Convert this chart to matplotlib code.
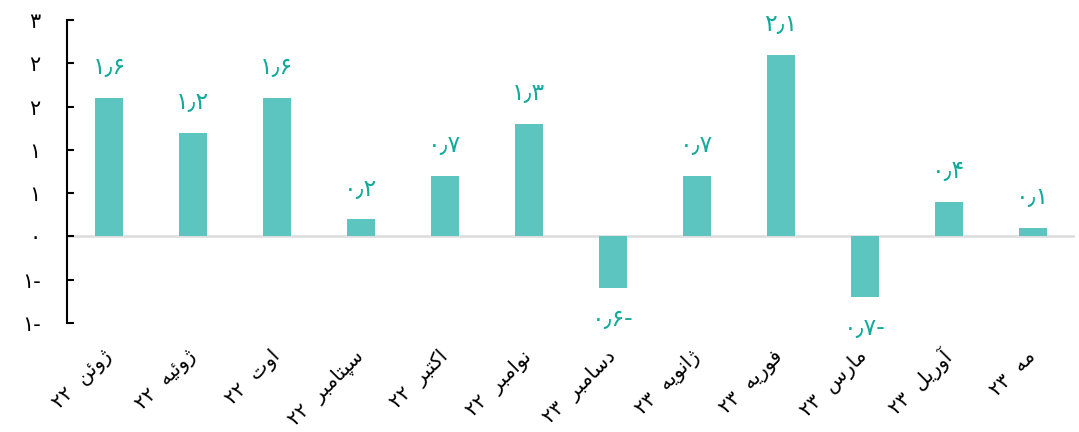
import numpy as np
import matplotlib
matplotlib.use("Agg")
import matplotlib.pyplot as plt

# chart data
months = ['ژوئن', 'ژوئیه', 'اوت', 'سپتامبر', 'اکتبر', 'نوامبر',
          'دسامبر', 'ژانویه', 'فوریه', 'مارس', 'آوریل', 'مه']
years = ['۲۲', '۲۲', '۲۲', '۲۲', '۲۲', '۲۲',
         '۲۳', '۲۳', '۲۳', '۲۳', '۲۳', '۲۳']
values = [1.6, 1.2, 1.6, 0.2, 0.7, 1.3, -0.6, 0.7, 2.1, -0.7, 0.4, 0.1]
y_ticks = [-1.0, -0.5, 0.0, 0.5, 1.0, 1.5, 2.0, 2.5]
y_tick_labels = ['۱-', '۱-', '۰', '۱', '۱', '۲', '۲', '۳']

bar_color = '#5cc5bf'
label_color = '#13a99b'

# matplotlib has no arabic shaping, so use presentation forms by hand
# (iso, fin) for right-joining letters, (iso, fin, ini, med) for dual-joining
FORMS = {
	'ا': ('\uFE8D', '\uFE8E'),
	'آ': ('\uFE81', '\uFE82'),
	'ب': ('\uFE8F', '\uFE90', '\uFE91', '\uFE92'),
	'پ': ('\uFB56', '\uFB57', '\uFB58', '\uFB59'),
	'ت': ('\uFE95', '\uFE96', '\uFE97', '\uFE98'),
	'د': ('\uFEA9', '\uFEAA'),
	'ر': ('\uFEAD', '\uFEAE'),
	'ز': ('\uFEAF', '\uFEB0'),
	'ژ': ('\uFB8A', '\uFB8B'),
	'س': ('\uFEB1', '\uFEB2', '\uFEB3', '\uFEB4'),
	'ف': ('\uFED1', '\uFED2', '\uFED3', '\uFED4'),
	'ک': ('\uFB8E', '\uFB8F', '\uFB90', '\uFB91'),
	'ل': ('\uFEDD', '\uFEDE', '\uFEDF', '\uFEE0'),
	'م': ('\uFEE1', '\uFEE2', '\uFEE3', '\uFEE4'),
	'ن': ('\uFEE5', '\uFEE6', '\uFEE7', '\uFEE8'),
	'ه': ('\uFEE9', '\uFEEA', '\uFEEB', '\uFEEC'),
	'و': ('\uFEED', '\uFEEE'),
	'ی': ('\uFBFC', '\uFBFD', '\uFBFE', '\uFBFF'),
	'ئ': ('\uFE89', '\uFE8A', '\uFE8B', '\uFE8C'),
}


def shape(word):
	out = []
	for i, ch in enumerate(word):
		f = FORMS.get(ch)
		if f is None:
			out.append(ch)
			continue
		prev = word[i - 1] if i > 0 else ''
		nxt = word[i + 1] if i + 1 < len(word) else ''
		join_prev = prev in FORMS and len(FORMS[prev]) == 4
		join_next = len(f) == 4 and nxt in FORMS
		if join_prev and join_next:
			out.append(f[3])
		elif join_prev:
			out.append(f[1])
		elif join_next:
			out.append(f[2])
		else:
			out.append(f[0])
	# visual order, left to right
	return ''.join(reversed(out))


def to_fa(v):
	digits = str.maketrans('0123456789', '۰۱۲۳۴۵۶۷۸۹')
	s = '{:.1f}'.format(abs(v)).translate(digits).replace('.', '٫')
	if v < 0:
		s += '-'
	return s


x_labels = [y + '  ' + shape(m) for m, y in zip(months, years)]

fig = plt.figure(figsize=(10.79, 4.32), dpi=100)
ax = fig.add_axes([0.062, 0.252, 0.934, 0.702])

x = np.arange(len(values))
ax.axhline(0, color='#dcdcdc', lw=1.8, zorder=1)
ax.bar(x, values, width=0.33, color=bar_color, zorder=2)

for xi, v in zip(x, values):
	off = 22 if v >= 0 else -22
	ax.annotate(to_fa(v), (xi, v), xytext=(0, off), textcoords='offset points',
				ha='center', va='center', fontsize=17, color=label_color,
				annotation_clip=False)

ax.set_xlim(-0.5, len(values) - 0.5)
ax.set_ylim(-1.0, 2.5)
ax.set_yticks(y_ticks)
ax.set_yticklabels(y_tick_labels, fontsize=15)
ax.tick_params(axis='y', direction='in', length=5, width=1.5, pad=19)

ax.set_xticks(x)
ax.set_xticklabels(x_labels, fontsize=14.5, rotation=45, ha='right', va='center',
				   rotation_mode='anchor')
ax.tick_params(axis='x', length=0, pad=22)

for s in ['top', 'right', 'bottom']:
	ax.spines[s].set_visible(False)
ax.spines['left'].set_linewidth(1.5)

fig.savefig('out.png', dpi=100)
